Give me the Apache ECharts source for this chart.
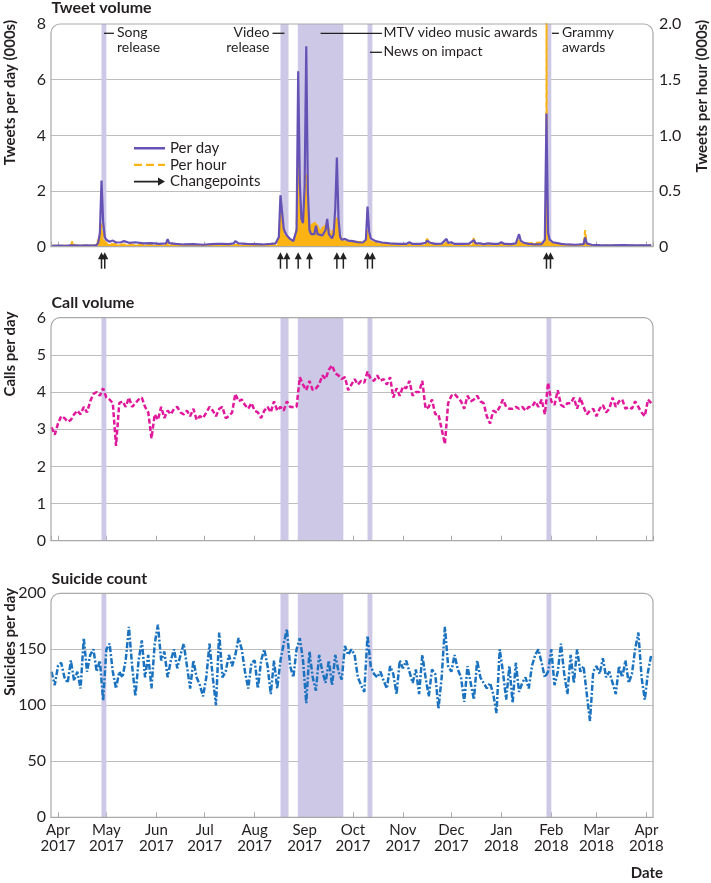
<!DOCTYPE html>
<html>
<head>
<meta charset="utf-8">
<script src="https://cdn.jsdelivr.net/npm/echarts@6/dist/echarts.min.js"></script>
<style>
  html, body { margin: 0; padding: 0; background: #fff; }
  #chart { width: 711px; height: 883px; }
</style>
</head>
<body>
<div id="chart"></div>
<script>
  // local-time parse, same as echarts does for date strings
  function ts(s){
    var p = s.split(/[-T:]/);
    return new Date(+p[0], p[1] - 1, +p[2], +(p[3] || 0), +(p[4] || 0)).getTime();
  }

  var monthNames = ['Jan', 'Feb', 'Mar', 'Apr', 'May', 'Jun', 'Jul', 'Aug', 'Sep', 'Oct', 'Nov', 'Dec'];

  /*tweets per day, thousands*/
  var tweetDay = [
    ['2017-03-28',0.03],['2017-04-02',0.04],['2017-04-06',0.03],['2017-04-09',0.05],['2017-04-10',0.11],['2017-04-11',0.05],
    ['2017-04-15',0.04],['2017-04-19',0.05],['2017-04-23',0.04],['2017-04-25',0.06],['2017-04-26',0.15],['2017-04-27',0.5],
    ['2017-04-28',2.38],['2017-04-29',0.9],['2017-04-30',0.35],['2017-05-01',0.25],['2017-05-03',0.18],['2017-05-05',0.22],
    ['2017-05-07',0.15],['2017-05-10',0.16],['2017-05-12',0.2],['2017-05-15',0.14],['2017-05-19',0.16],['2017-05-24',0.12],
    ['2017-05-29',0.13],['2017-06-03',0.1],['2017-06-07',0.12],['2017-06-08',0.27],['2017-06-09',0.13],['2017-06-13',0.1],
    ['2017-06-18',0.08],['2017-06-24',0.09],['2017-06-30',0.07],['2017-07-05',0.09],['2017-07-09',0.1],['2017-07-10',0.16],
    ['2017-07-12',0.1],['2017-07-16',0.09],['2017-07-19',0.12],['2017-07-20',0.2],['2017-07-22',0.12],['2017-07-27',0.1],
    ['2017-08-01',0.09],['2017-08-06',0.08],['2017-08-11',0.1],['2017-08-14',0.12],['2017-08-16',0.35],['2017-08-17',1.85],
    ['2017-08-18',1.8],['2017-08-19',0.65],['2017-08-20',0.5],['2017-08-21',0.4],['2017-08-23',0.28],['2017-08-25',0.2],
    ['2017-08-26',0.22],['2017-08-27',0.6],['2017-08-28',6.3],['2017-08-29',2.3],['2017-08-30',1.0],['2017-08-31',0.85],
    ['2017-09-01',2.2],['2017-09-02',7.2],['2017-09-03',2.0],['2017-09-04',0.6],['2017-09-05',0.45],['2017-09-06',0.5],
    ['2017-09-07',0.45],['2017-09-08',0.75],['2017-09-09',0.45],['2017-09-10',0.4],['2017-09-12',0.4],['2017-09-13',0.5],
    ['2017-09-14',0.6],['2017-09-15',1.0],['2017-09-16',0.45],['2017-09-18',0.3],['2017-09-19',0.45],['2017-09-20',1.4],
    ['2017-09-21',3.2],['2017-09-22',1.0],['2017-09-23',0.35],['2017-09-24',0.25],['2017-09-26',0.28],['2017-09-28',0.22],
    ['2017-10-01',0.2],['2017-10-04',0.16],['2017-10-07',0.15],['2017-10-09',0.25],['2017-10-10',1.44],['2017-10-11',0.55],
    ['2017-10-12',0.3],['2017-10-13',0.25],['2017-10-15',0.2],['2017-10-19',0.15],['2017-10-24',0.12],['2017-10-29',0.1],
    ['2017-11-03',0.1],['2017-11-05',0.16],['2017-11-07',0.1],['2017-11-12',0.1],['2017-11-15',0.14],['2017-11-16',0.22],
    ['2017-11-18',0.14],['2017-11-21',0.1],['2017-11-25',0.11],['2017-11-28',0.28],['2017-11-29',0.14],['2017-12-01',0.16],
    ['2017-12-03',0.1],['2017-12-08',0.1],['2017-12-12',0.11],['2017-12-15',0.24],['2017-12-16',0.12],['2017-12-19',0.12],
    ['2017-12-21',0.09],['2017-12-24',0.12],['2017-12-27',0.1],['2017-12-30',0.1],['2018-01-01',0.16],['2018-01-03',0.1],
    ['2018-01-07',0.09],['2018-01-10',0.12],['2018-01-12',0.45],['2018-01-13',0.22],['2018-01-15',0.14],['2018-01-18',0.1],
    ['2018-01-22',0.08],['2018-01-26',0.09],['2018-01-28',0.25],['2018-01-29',4.78],['2018-01-30',0.5],['2018-01-31',0.25],
    ['2018-02-02',0.16],['2018-02-04',0.14],['2018-02-05',0.16],['2018-02-07',0.1],['2018-02-11',0.08],['2018-02-16',0.07],
    ['2018-02-21',0.09],['2018-02-22',0.33],['2018-02-23',0.12],['2018-02-26',0.07],['2018-03-03',0.06],['2018-03-10',0.05],
    ['2018-03-17',0.06],['2018-03-24',0.05],['2018-03-30',0.05],['2018-04-04',0.05]
  ];

  /*peak tweets per hour, thousands*/
  var tweetHour = [
    ['2017-03-28',0.008],['2017-04-09',0.01],['2017-04-10',0.05],['2017-04-11',0.01],['2017-04-24',0.01],['2017-04-26',0.06],
    ['2017-04-27',0.1],['2017-04-28',0.21],['2017-04-29',0.08],['2017-04-30',0.04],['2017-05-02',0.025],['2017-05-10',0.02],
    ['2017-05-20',0.018],['2017-06-07',0.015],['2017-06-08',0.04],['2017-06-09',0.015],['2017-07-09',0.015],['2017-07-10',0.025],
    ['2017-07-11',0.015],['2017-07-19',0.015],['2017-07-20',0.03],['2017-07-21',0.015],['2017-08-15',0.015],['2017-08-16',0.08],
    ['2017-08-17',0.3],['2017-08-18',0.28],['2017-08-19',0.12],['2017-08-21',0.08],['2017-08-25',0.05],['2017-08-27',0.15],
    ['2017-08-28',0.83],['2017-08-29',0.35],['2017-08-30',0.2],['2017-08-31',0.18],['2017-09-01',0.35],['2017-09-02',0.66],
    ['2017-09-03',0.3],['2017-09-04',0.18],['2017-09-06',0.2],['2017-09-08',0.22],['2017-09-10',0.15],['2017-09-12',0.17],
    ['2017-09-15',0.2],['2017-09-17',0.12],['2017-09-19',0.15],['2017-09-21',0.27],['2017-09-22',0.15],['2017-09-24',0.06],
    ['2017-10-01',0.045],['2017-10-09',0.04],['2017-10-10',0.15],['2017-10-11',0.07],['2017-10-14',0.035],['2017-10-25',0.02],
    ['2017-11-04',0.02],['2017-11-05',0.03],['2017-11-06',0.02],['2017-11-15',0.02],['2017-11-16',0.085],['2017-11-17',0.025],
    ['2017-11-27',0.02],['2017-11-28',0.05],['2017-11-29',0.02],['2017-12-14',0.02],['2017-12-15',0.08],['2017-12-16',0.02],
    ['2018-01-11',0.02],['2018-01-12',0.07],['2018-01-13',0.025],['2018-01-28',0.04],['2018-01-28T20:00',0.06],
    ['2018-01-29T01:00',2.3],['2018-01-29T06:00',0.1],['2018-01-30',0.06],
    ['2018-02-01',0.03],['2018-02-10',0.015],['2018-02-21',0.015],['2018-02-22',0.15],['2018-02-23',0.015],['2018-03-10',0.01],
    ['2018-04-04',0.01]
  ];

  var changepoints = ['2017-04-28', '2017-04-30', '2017-08-17', '2017-08-21', '2017-08-28', '2017-09-04',
    '2017-09-21', '2017-09-25', '2017-10-10', '2017-10-13', '2018-01-29', '2018-01-31T12:00'];

  /*calls per day, every second day from 28 Mar 2017*/
  var calls = [
    3.05,2.85,3.15,3.35,3.3,3.2,3.25,3.4,3.5,3.4, 3.6,3.45,3.75,3.95,4.0,3.9,4.1,3.85,3.8,3.7,
    2.55,3.7,3.75,3.6,3.85,3.6,3.7,3.8,3.85,3.6, 3.45,2.75,3.4,3.25,3.6,3.3,3.5,3.4,3.55,3.6,
    3.45,3.4,3.5,3.35,3.55,3.25,3.35,3.3,3.45,3.6, 3.5,3.35,3.55,3.6,3.3,3.35,3.45,3.95,3.75,3.8,
    3.65,3.55,3.7,3.5,3.45,3.3,3.5,3.6,3.45,3.75, 3.5,3.6,3.5,3.75,3.6,3.6,3.6,4.4,4.2,4.05,
    4.3,4.05,4.1,4.2,4.45,4.35,4.6,4.72,4.5,4.45, 4.35,4.4,4.05,4.2,4.35,4.2,4.3,4.25,4.55,4.35,
    4.3,4.45,4.3,4.35,4.2,4.4,3.85,4.1,3.9,4.15, 4.1,4.3,3.9,4.0,4.0,4.3,3.55,3.6,3.8,3.4,
    3.4,3.0,2.6,3.7,3.9,3.95,3.85,3.75,3.55,3.9, 3.75,3.8,3.9,3.75,3.7,3.35,3.15,3.5,3.45,3.6,
    3.8,3.6,3.55,3.55,3.6,3.55,3.6,3.5,3.6,3.6, 3.75,3.6,3.8,3.4,4.25,3.75,3.65,4.05,3.65,3.6,
    3.7,3.7,3.85,3.55,3.85,3.6,3.4,3.5,3.55,3.35, 3.55,3.65,3.45,3.55,3.85,3.6,3.75,3.8,3.55,3.6,
    3.55,3.75,3.6,3.45,3.35,3.8,3.7
  ];

  /*suicides per day, every second day from 28 Mar 2017*/
  var suicides = [
    130,118,135,138,125,120,140,122,130,115, 160,130,145,150,130,140,104,150,155,130,
    115,130,125,140,170,135,108,140,158,125, 145,115,155,172,140,148,125,140,150,133,
    145,155,135,115,140,125,118,108,125,155, 125,100,165,125,130,145,135,145,160,150,
    130,115,138,140,115,140,150,135,110,140, 115,140,155,168,135,125,150,160,140,102,
    148,125,113,145,130,120,140,118,145,130, 123,153,145,150,145,125,118,112,162,135,
    128,125,130,122,115,135,128,110,140,133, 140,130,120,132,110,145,125,108,132,128,
    97,125,170,135,130,145,132,125,103,135, 120,105,140,125,120,115,120,110,93,150,
    130,105,135,102,138,112,120,125,115,135, 145,150,138,125,130,150,118,130,155,128,
    110,145,120,150,130,135,110,86,130,135, 128,142,125,130,120,110,135,125,140,120,
    128,150,165,125,105,130,145
  ];

  var bands = [
    ['2017-04-28', '2017-05-01'],
    ['2017-08-17', '2017-08-22'],
    ['2017-08-27T18:00', '2017-09-25'],
    ['2017-10-10', '2017-10-13'],
    ['2018-01-29', '2018-02-01']
  ];

  var DAY = 864e5;
  var seriesStart = ts('2017-03-28');
  var xMin = ts('2017-03-27T16:00'), xMax = ts('2018-04-05T02:00');

  var purple = '#6652b4', orange = '#fcb314', magenta = '#e0189b', blue = '#1b72bf';
  var bandColor = '#cdc8e6', gridColor = '#bdbdbd', frameColor = '#a9a9a9', ink = '#231f20';
  var font = 'Lato';

  var L = 51, R = 653;
  var tops = [24, 317.7, 593.3], heights = [222.7, 223, 224];

  var chart = echarts.init(document.getElementById('chart'));

  var xAxes = [0, 1, 2].map(function (i){
    return {
      type: 'time', gridIndex: i, min: xMin, max: xMax,
      splitNumber: 12, minInterval: 28 * DAY, maxInterval: 31 * DAY,
      axisLine: {lineStyle: {color: frameColor, width: 1}},
      axisTick: {inside: true, length: 5, lineStyle: {color: frameColor}},
      splitLine: {show: false},
      axisLabel: {
        show: i === 2, showMinLabel: false, showMaxLabel: false,
        color: ink, fontFamily: font, fontSize: 15, lineHeight: 16, margin: 5,
        formatter: function (v){
          var d = new Date(v);
          return monthNames[d.getMonth()] + '\n' + d.getFullYear();
        }
      }
    };
  });

  function yAxis(grid, max, interval, pos){
    return {
      type: 'value', gridIndex: grid, min: 0, max: max, interval: interval, position: pos || 'left',
      axisLine: {show: false}, axisTick: {show: false},
      axisLabel: {color: ink, fontFamily: font, fontSize: 16, margin: pos === 'right' ? 6 : 5,
        formatter: function (v){ return (pos === 'right' && v !== 0) ? v.toFixed(1) : String(v); }},
      splitLine: {show: pos !== 'right', showMinLine: false, showMaxLine: false, lineStyle: {color: gridColor, width: 1}}
    };
  }

  function bandSeries(xi, yi){
    return {
      type: 'line', xAxisIndex: xi, yAxisIndex: yi, data: [], z: 1, silent: true,
      markArea: {silent: true, itemStyle: {color: bandColor}, data: bands.map(function (b){
        return [{xAxis: ts(b[0])}, {xAxis: ts(b[1])}];
      })}
    };
  }

  // legend icons; the zero-area bits at y=0 and y=12 keep the box height
  var iconSolid = 'path://M0,0 L1,0 Z M0,5 L31,5 L31,7.4 L0,7.4 Z M0,12 L1,12 Z';
  var iconDashed = 'path://M0,0 L1,0 Z M0,5 L8,5 L8,7.4 L0,7.4 Z M12,5 L20,5 L20,7.4 L12,7.4 Z M24,5 L31,5 L31,7.4 L24,7.4 Z M0,12 L1,12 Z';
  var iconArrow = 'path://M0,0 L1,0 Z M0,5.3 L24,5.3 L24,2 L31,6.2 L24,10.4 L24,7.1 L0,7.1 Z M0,12 L1,12 Z';

  var option = {
    animation: false,
    textStyle: {fontFamily: font},
    grid: tops.map(function (t, i){
      return {left: L, right: 711 - R, top: t, height: heights[i]};
    }),
    xAxis: xAxes,
    yAxis: [
      yAxis(0, 8, 2),
      yAxis(0, 2, 0.5, 'right'),
      yAxis(1, 6, 1),
      yAxis(2, 200, 50)
    ],
    legend: {
      orient: 'vertical', left: 129, top: 135, itemWidth: 31, itemHeight: 12, itemGap: 0.7,
      textStyle: {color: ink, fontFamily: font, fontSize: 15, lineHeight: 16},
      data: [
        {name: 'Per day', icon: iconSolid},
        {name: 'Per hour', icon: iconDashed},
        {name: 'Changepoints', icon: iconArrow}
      ]
    },
    series: [
      bandSeries(0, 0),
      bandSeries(1, 2),
      bandSeries(2, 3),
      {
        name: 'Per hour', type: 'line', xAxisIndex: 0, yAxisIndex: 1, z: 2, symbol: 'none',
        data: tweetHour.map(function (d){ return [ts(d[0]), d[1]]; }),
        lineStyle: {color: orange, width: 2, type: [6, 3]},
        itemStyle: {color: orange},
        areaStyle: {color: orange, opacity: 1}
      },
      {
        name: 'Per day', type: 'line', xAxisIndex: 0, yAxisIndex: 0, z: 3, symbol: 'none',
        data: tweetDay.map(function (d){ return [ts(d[0]), d[1]]; }),
        lineStyle: {color: purple, width: 2.2},
        itemStyle: {color: purple}
      },
      {
        name: 'Changepoints', type: 'custom', xAxisIndex: 0, yAxisIndex: 0, z: 4, clip: false,
        itemStyle: {color: '#222'},
        data: changepoints.map(function (d){ return [ts(d), 0]; }),
        renderItem: function (params, api){
          var p = api.coord([api.value(0), 0]);
          return {
            type: 'group',
            children: [
              {type: 'line', shape: {x1: p[0], y1: p[1] + 10, x2: p[0], y2: p[1] + 22},
                style: {stroke: '#222', lineWidth: 1.5}},
              {type: 'polygon', shape: {points: [[p[0], p[1] + 5.5], [p[0] - 3.5, p[1] + 12.5], [p[0] + 3.5, p[1] + 12.5]]},
                style: {fill: '#222'}}
            ]
          };
        }
      },
      {
        name: 'Calls', type: 'line', xAxisIndex: 1, yAxisIndex: 2, z: 3, symbol: 'none',
        data: calls.map(function (v, i){ return [seriesStart + i * 2 * DAY, v]; }),
        lineStyle: {color: magenta, width: 2.5, type: [5, 2.5]}
      },
      {
        name: 'Suicides', type: 'line', xAxisIndex: 2, yAxisIndex: 3, z: 3, symbol: 'none',
        data: suicides.map(function (v, i){ return [seriesStart + i * 2 * DAY, v]; }),
        lineStyle: {color: blue, width: 2.5, type: [6, 2, 2, 2]}
      }
    ]
  };

  chart.setOption(option);

  /*frames, titles, axis names and event notes*/
  var g = [];
  tops.forEach(function (t, i){
    g.push({type: 'rect', z: 100, silent: true,
      shape: {x: L, y: t, width: R - L, height: heights[i], r: [9, 9, 0, 0]},
      style: {fill: 'none', stroke: frameColor, lineWidth: 1.2}});
  });

  var titles = [['Tweet volume', 8], ['Call volume', 303.3], ['Suicide count', 579.3]];
  titles.forEach(function (t){
    g.push({type: 'text', x: 51.5, y: t[1], z: 100,
      style: {text: t[0], fill: ink, font: 'bold 16px ' + font, textVerticalAlign: 'middle'}});
  });

  var names = [['Tweets per day (000s)', 10, 20], ['Calls per day', 10, 311.7], ['Suicides per day', 10, 588],
    ['Tweets per hour (000s)', 702.5, 20]];
  names.forEach(function (n){
    g.push({type: 'text', x: n[1], y: n[2], rotation: Math.PI / 2, z: 100,
      style: {text: n[0], fill: ink, font: 'bold 15px ' + font, textAlign: 'right', textVerticalAlign: 'middle'}});
  });

  g.push({type: 'text', x: 663, y: 873, z: 100,
    style: {text: 'Date', fill: ink, font: 'bold 15px ' + font, textAlign: 'right', textVerticalAlign: 'middle'}});

  function bandMid(i){
    var a = chart.convertToPixel({xAxisIndex: 0}, ts(bands[i][0]));
    var b = chart.convertToPixel({xAxisIndex: 0}, ts(bands[i][1]));
    return (a + b) / 2;
  }
  function note(x1, x2, y, tx, align, text){
    g.push({type: 'line', z: 100, shape: {x1: x1, y1: y, x2: x2, y2: y}, style: {stroke: '#222', lineWidth: 1.3}});
    g.push({type: 'text', x: tx, y: y - 8, z: 100,
      style: {text: text, fill: ink, font: '14px ' + font, textAlign: align, lineHeight: 15}});
  }
  var m0 = bandMid(0), m1 = bandMid(1), m2 = bandMid(2), m3 = bandMid(3), m4 = bandMid(4);
  note(m0, m0 + 10, 33.3, m0 + 13, 'left', 'Song\nrelease');
  note(m1 - 12, m1, 33.3, m1 - 15, 'right', 'Video\nrelease');
  note(m2, m3 + 12, 33.3, m3 + 13.5, 'left', 'MTV video music awards');
  note(m3, m3 + 12, 52.3, m3 + 13.5, 'left', 'News on impact');
  note(m4 + 3, m4 + 10, 33.3, m4 + 13, 'left', 'Grammy\nawards');

  chart.setOption({graphic: g});
</script>
</body>
</html>
